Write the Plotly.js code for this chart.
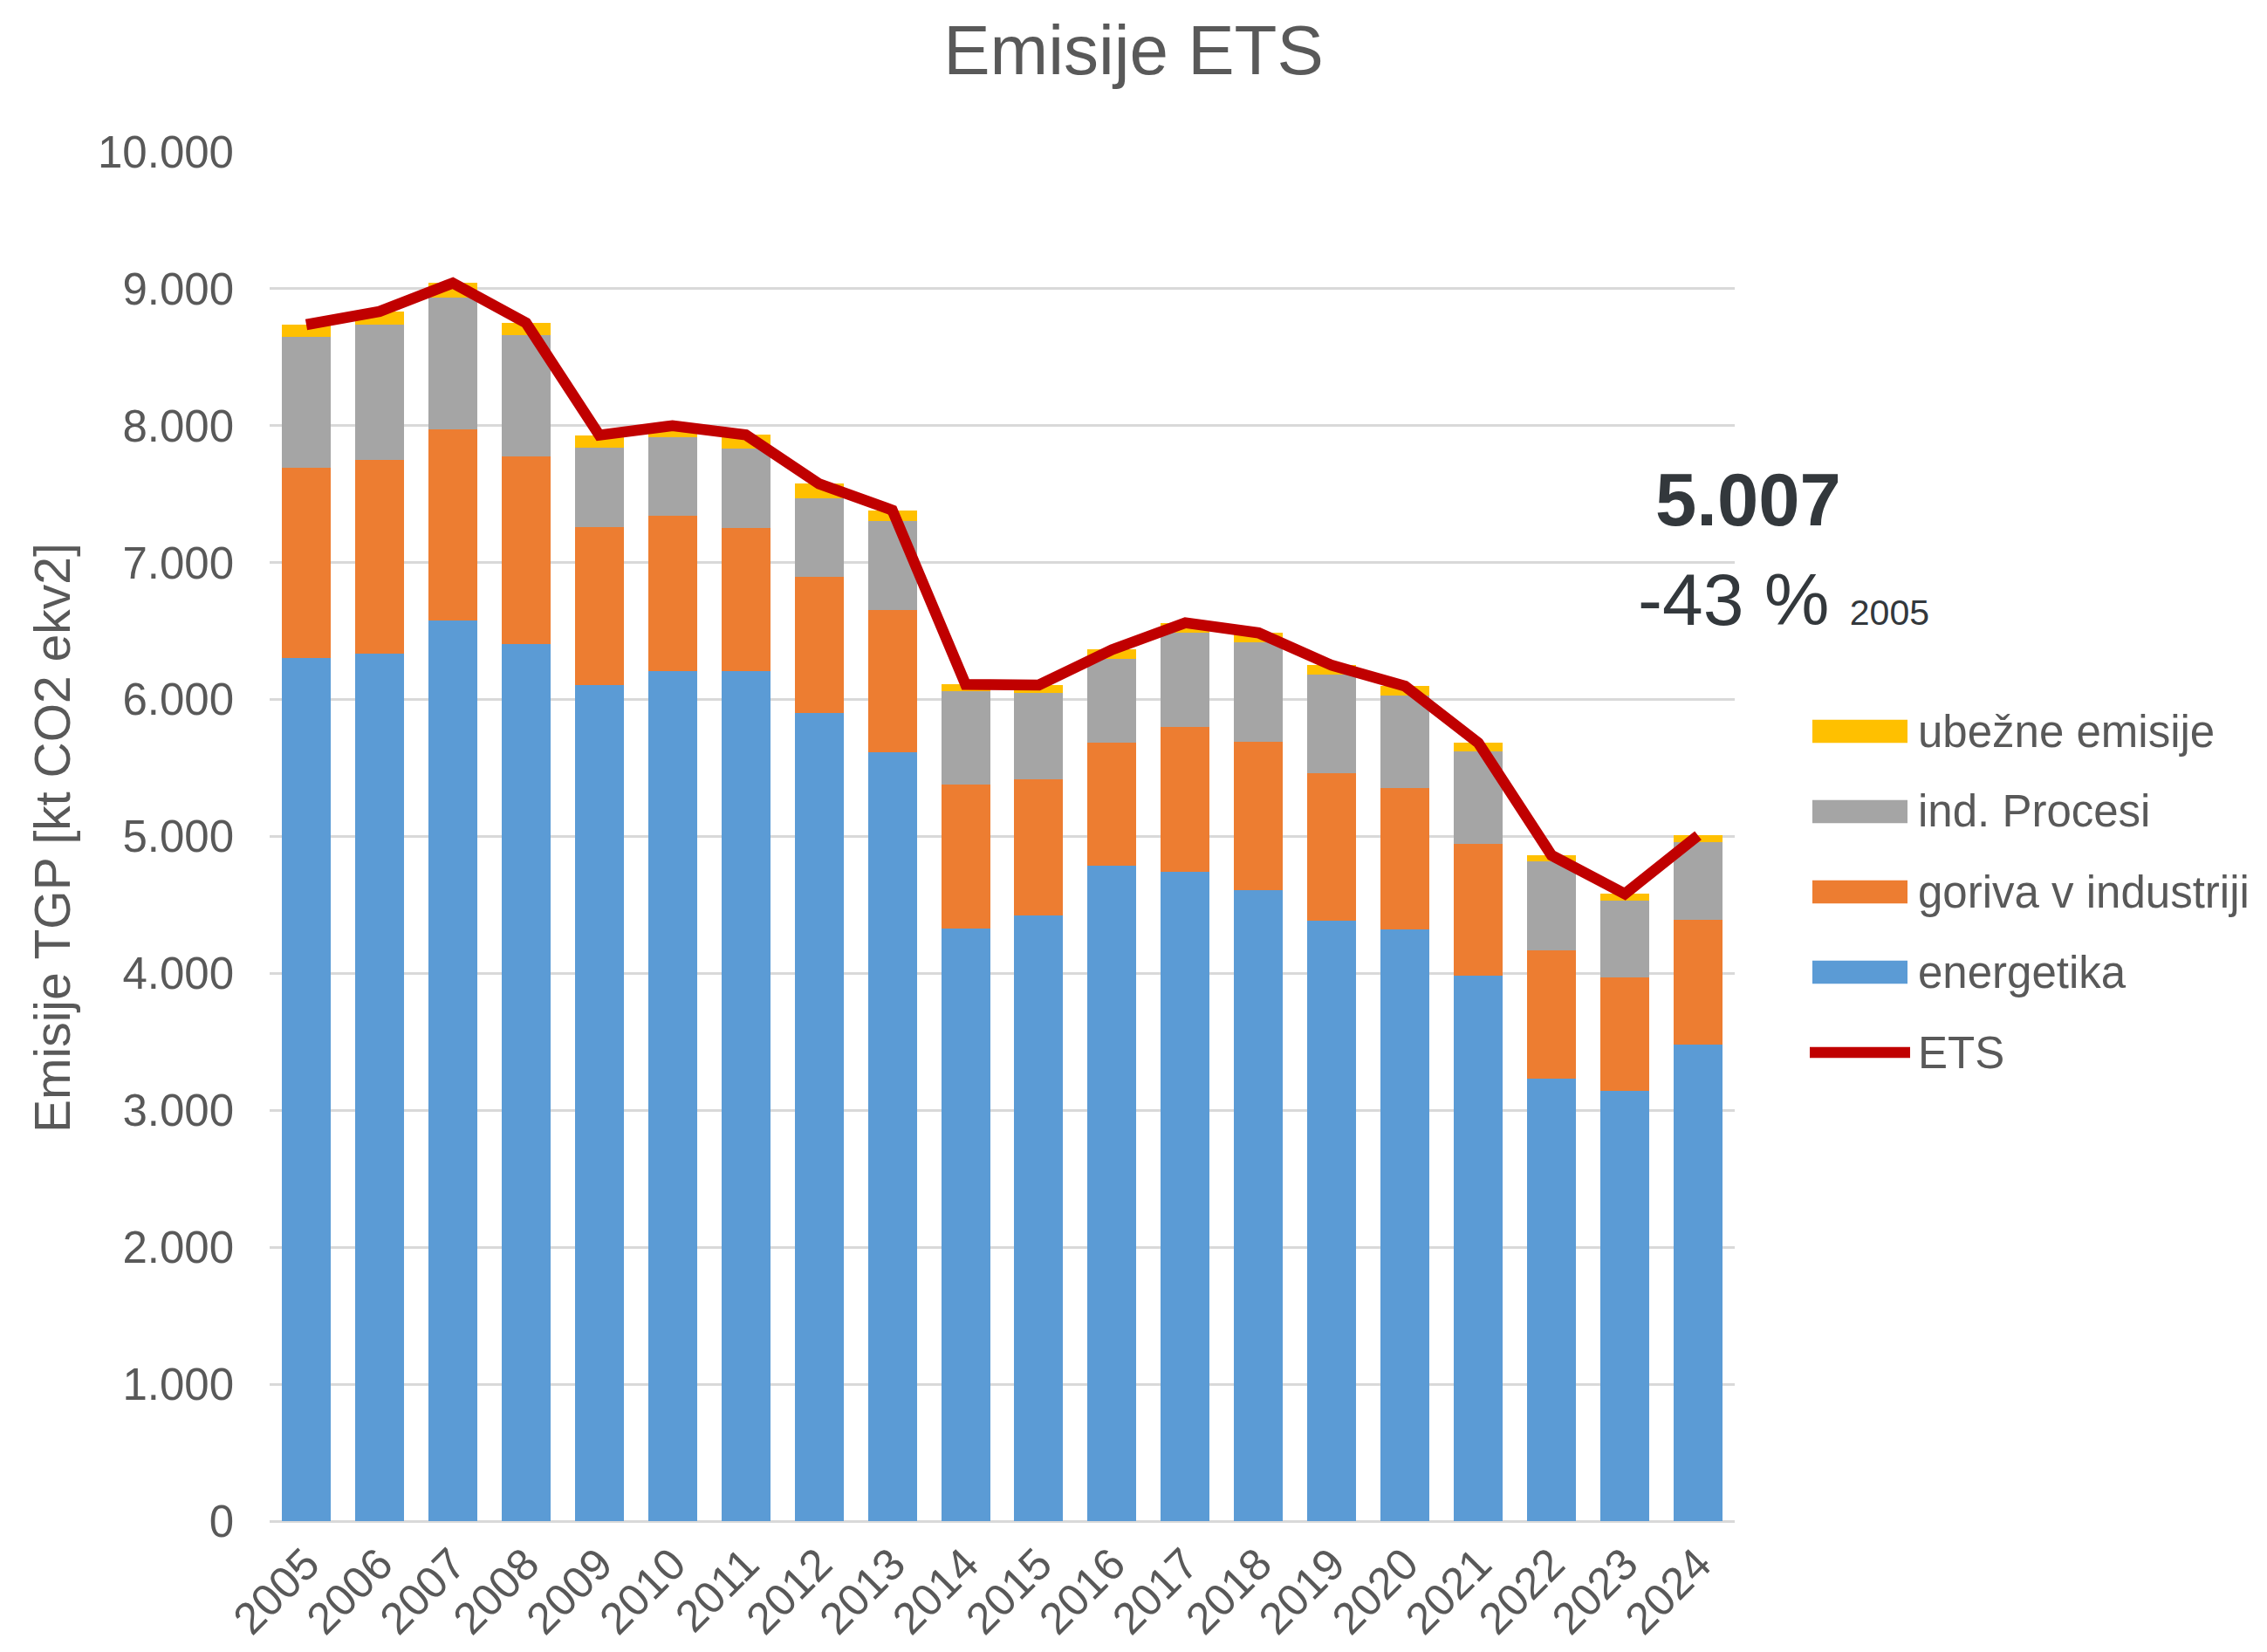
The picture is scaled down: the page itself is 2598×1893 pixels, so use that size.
<!DOCTYPE html>
<html>
<head>
<meta charset="utf-8">
<script src="https://cdn.plot.ly/plotly-3.0.1.min.js"></script>
<style>
  html, body { margin: 0; padding: 0; background: #ffffff; }
  #chart { width: 2598px; height: 1893px; }
</style>
</head>
<body>
<div id="chart"></div>
<script>
// ---- Data (kt CO2 ekv) ----
const years = ['2005','2006','2007','2008','2009','2010','2011','2012','2013','2014',
               '2015','2016','2017','2018','2019','2020','2021','2022','2023','2024'];
const energetika = [6303, 6337, 6580, 6403, 6104, 6207, 6207, 5902, 5615, 4328,
                    4422, 4784, 4744, 4608, 4388, 4323, 3985, 3232, 3143, 3483];
const gorivaVIndustriji = [1392, 1415, 1395, 1375, 1153, 1136, 1044, 997, 1037, 1054,
                           997, 898, 1057, 1083, 1072, 1028, 962, 938, 829, 911];
const indProcesi = [956, 984, 961, 886, 585, 570, 580, 568, 654, 679,
                    628, 617, 686, 724, 724, 681, 672, 649, 560, 566];
const ubezneEmisije = [87, 98, 106, 87, 89, 87, 102, 109, 77, 50,
                       59, 65, 74, 72, 66, 66, 64, 43, 49, 47];
const ets = [8738, 8834, 9042, 8751, 7931, 8000, 7933, 7576, 7383, 6111,
             6106, 6364, 6561, 6487, 6250, 6098, 5683, 4862, 4581, 5007];

const seriesNames = ['energetika', 'goriva v industriji', 'ind. Procesi', 'ubežne emisije', 'ETS'];
const legendOrder = ['ubežne emisije', 'ind. Procesi', 'goriva v industriji', 'energetika', 'ETS'];
const chartTitle = 'Emisije ETS';
const yTitle = 'Emisije TGP [kt CO2 ekv2]';
const lastValueLabel = '5.007';
const changeLabel = '-43 %';
const baseYearLabel = '2005';

// ---- Styles ----
const FONT = 'Liberation Sans, Arial, Helvetica, sans-serif';
const TEXT = '#595959';
const colors = {
  'energetika': '#5B9BD5',
  'goriva v industriji': '#ED7D31',
  'ind. Procesi': '#A5A5A5',
  'ubežne emisije': '#FFC000',
  'ETS': '#C00000'
};

const W = 2598, H = 1893;
const M = { l: 309, r: 610, t: 174, b: 150 };
const PW = W - M.l - M.r, PH = H - M.t - M.b;
const px = x => (x - M.l) / PW;
const py = y => 1 - (y - M.t) / PH;

const barSeries = [energetika, gorivaVIndustriji, indProcesi, ubezneEmisije];
const traces = barSeries.map((vals, i) => ({
  type: 'bar',
  name: seriesNames[i],
  x: years,
  y: vals,
  marker: { color: colors[seriesNames[i]], line: { width: 0 } },
  showlegend: false,
  hoverinfo: 'name+y'
}));
traces.push({
  type: 'scatter',
  mode: 'lines',
  name: seriesNames[4],
  x: years,
  y: ets,
  line: { color: colors['ETS'], width: 12.5 },
  showlegend: false
});

// ---- Custom legend (wide swatches like the original) ----
const shapes = [];
const annotations = [];
const legendY0 = 838, legendStep = 92;
legendOrder.forEach((name, i) => {
  const cy = legendY0 + i * legendStep;
  if (name === 'ETS') {
    shapes.push({ type: 'line', xref: 'paper', yref: 'paper',
      x0: px(2074), x1: px(2189), y0: py(cy), y1: py(cy),
      line: { color: colors[name], width: 12.7 } });
  } else {
    shapes.push({ type: 'rect', xref: 'paper', yref: 'paper',
      x0: px(2077), x1: px(2186), y0: py(cy - 13.3), y1: py(cy + 13.3),
      fillcolor: colors[name], line: { width: 0 } });
  }
  annotations.push({ xref: 'paper', yref: 'paper', x: px(2196), y: py(cy),
    xanchor: 'left', yanchor: 'middle', showarrow: false, text: name,
    font: { family: FONT, size: 51, color: TEXT } });
});

// y-axis title
annotations.push({ xref: 'paper', yref: 'paper', x: px(60), y: py(960),
  xanchor: 'center', yanchor: 'middle', showarrow: false, textangle: -90,
  text: yTitle, font: { family: FONT, size: 57, color: TEXT } });

// value call-outs
annotations.push({ xref: 'paper', yref: 'paper', x: px(2003.5), y: py(572),
  xanchor: 'center', yanchor: 'middle', showarrow: false,
  text: '<b>' + lastValueLabel + '</b>',
  font: { family: FONT, size: 85, color: '#33383C' } });
annotations.push({ xref: 'paper', yref: 'paper', x: px(1875), y: py(687),
  xanchor: 'left', yanchor: 'middle', showarrow: false,
  text: changeLabel + ' <span style="font-size:41px">' + baseYearLabel + '</span>',
  font: { family: FONT, size: 84, color: '#33383C' } });

const layout = {
  width: W, height: H,
  margin: M,
  paper_bgcolor: '#ffffff',
  plot_bgcolor: '#ffffff',
  barmode: 'stack',
  bargap: 0.333,
  separators: ',.',
  showlegend: false,
  font: { family: FONT, color: TEXT, size: 51 },
  title: { text: chartTitle, font: { family: FONT, size: 80, color: TEXT },
           x: 0.5, xref: 'container', xanchor: 'center',
           y: 1 - 57 / H, yref: 'container', yanchor: 'middle' },
  xaxis: {
    type: 'category',
    tickangle: -45,
    tickfont: { family: FONT, size: 51, color: TEXT },
    showgrid: false, zeroline: false, showline: false,
    ticks: '', ticklabelstandoff: 8,
    fixedrange: true
  },
  yaxis: {
    range: [0, 10000],
    dtick: 1000,
    tickformat: ',d',
    tickfont: { family: FONT, size: 51, color: TEXT },
    showgrid: true, gridcolor: '#D9D9D9', gridwidth: 3,
    zeroline: true, zerolinecolor: '#D9D9D9', zerolinewidth: 3,
    showline: false, ticks: '', ticklabelstandoff: 40,
    fixedrange: true
  },
  shapes: shapes,
  annotations: annotations
};

Plotly.newPlot('chart', traces, layout, { displayModeBar: false, staticPlot: true });
</script>
</body>
</html>
